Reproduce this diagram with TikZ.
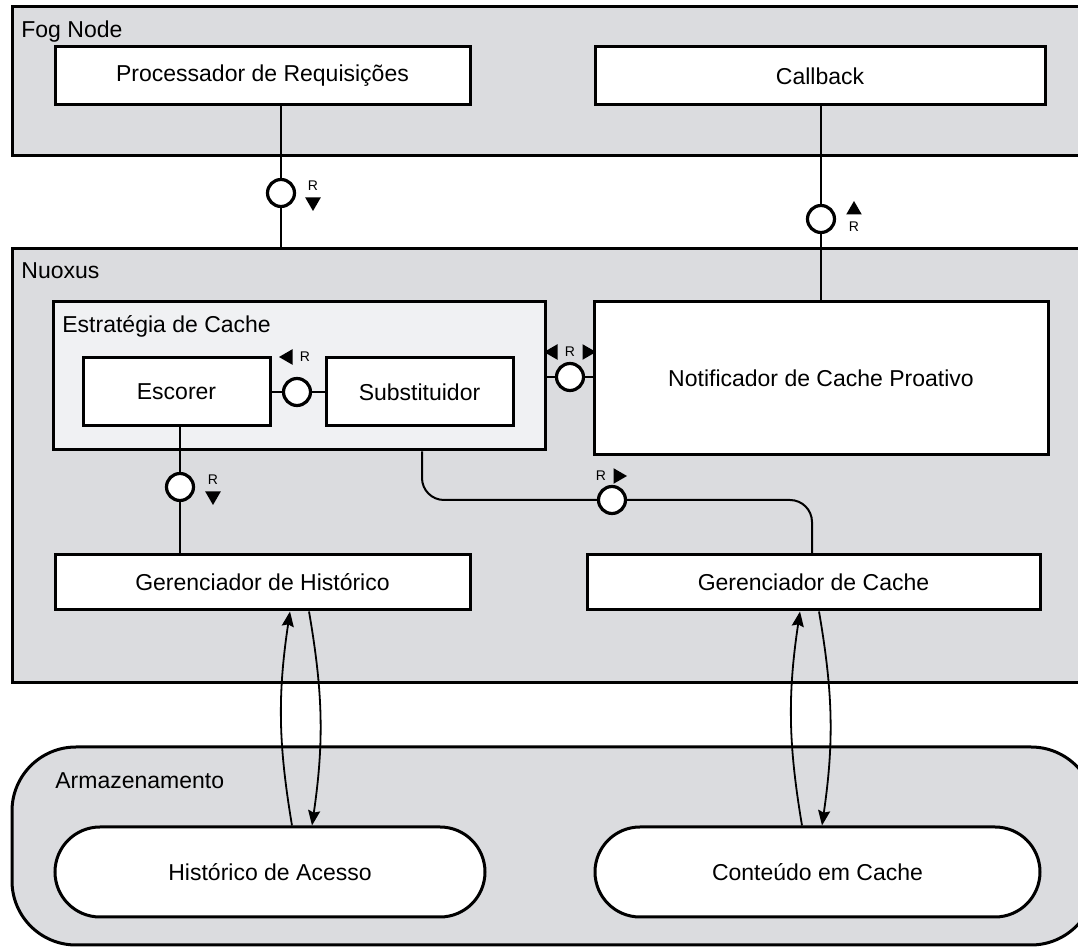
\documentclass[tikz,border=0pt]{standalone}
\usepackage{fontspec}
\setmainfont{Liberation Sans}
\usetikzlibrary{shapes.geometric,arrows.meta,positioning}
\definecolor{fogfill}{RGB}{219,220,223}
\definecolor{stratfill}{RGB}{240,241,243}

\begin{document}
\begin{tikzpicture}[x=0.5pt,y=-0.5pt,
	every node/.style={font=\fontsize{11.5}{14}\selectfont},
	frame/.style={draw,line width=1.5pt,fill=fogfill,inner sep=0pt},
	comp/.style={draw,line width=1.5pt,fill=white,inner sep=0pt},
	store/.style={draw,line width=1.5pt,fill=white,rounded corners=22.5pt,inner sep=0pt},
	title/.style={anchor=north west,inner sep=0pt},
	ball/.style={circle,draw,line width=1.6pt,fill=white,minimum size=13.5pt,inner sep=0pt},
	wire/.style={line width=1pt},
	flow/.style={line width=0.9pt,-{Stealth[length=7.5pt,width=6pt,inset=1pt]}},
	rlabel/.style={font=\fontsize{7}{8}\selectfont,inner sep=0pt},
	tri/.style={regular polygon,regular polygon sides=3,fill=black,minimum size=9pt,inner sep=0pt}]

	\clip (0,0) rectangle (1078,951);
	\useasboundingbox (0,0) rectangle (1078,951);

	\node [frame, minimum width=541.5pt, minimum height=74.5pt] (frame-fog) at (553.5,81.5) {};
	\node [title] (title-fog) at (21,20) {Fog Node};
	\node [comp, minimum width=207.5pt, minimum height=29pt] (box-proc) at (262.5,76) {Processador de Requisições};
	\node [comp, minimum width=225pt, minimum height=29pt] (box-callback) at (820,76) {Callback};

	\node [frame, minimum width=541.5pt, minimum height=217pt] (frame-nuoxus) at (553.5,466) {};
	\node [title] (title-nuoxus) at (21,262) {Nuoxus};
	\node [frame, fill=stratfill, minimum width=246pt, minimum height=74pt] (box-strat) at (299,376) {};
	\node [title] (title-strat) at (62,315) {Estratégia de Cache};
	\node [comp, minimum width=93.5pt, minimum height=34pt] (box-esc) at (176.5,392) {Escorer};
	\node [comp, minimum width=93.5pt, minimum height=34pt] (box-sub) at (419.5,392) {Substituidor};
	\node [comp, minimum width=227pt, minimum height=76.5pt] (box-notif) at (821,378.5) {Notificador de Cache Proativo};
	\node [comp, minimum width=207.5pt, minimum height=27.5pt] (box-ghist) at (262.5,582.5) {Gerenciador de Histórico};
	\node [comp, minimum width=226.5pt, minimum height=27.5pt] (box-gcache) at (813.5,582.5) {Gerenciador de Cache};

	\node [frame, rounded corners=32pt, minimum width=541.5pt, minimum height=99pt] (frame-store) at (553.5,846) {};
	\node [title] (title-store) at (55,772) {Armazenamento};
	\node [store, minimum width=215pt, minimum height=45pt] (box-hacc) at (270,872) {Histórico de Acesso};
	\node [store, minimum width=222.5pt, minimum height=45pt] (box-cont) at (817.5,872) {Conteúdo em Cache};

	\node [ball] (ball-req) at (281,193) {};
	\node [ball] (ball-cb) at (821,219) {};
	\node [ball] (ball-sc) at (297,392) {};
	\node [ball] (ball-nt) at (570,377) {};
	\node [ball] (ball-hist) at (180,487) {};
	\node [ball] (ball-cache) at (612,500) {};
	\coordinate (bend-a) at (422,500);
	\coordinate (bend-b) at (812,500);

	\draw [wire] (ball-req |- box-proc.south) -- (ball-req.north);
	\draw [wire] (ball-req.south) -- (ball-req |- frame-nuoxus.north);
	\draw [wire] (ball-cb |- box-callback.south) -- (ball-cb.north);
	\draw [wire] (ball-cb.south) -- (ball-cb |- box-notif.north);
	\draw [wire] (box-esc.east) -- (ball-sc.west);
	\draw [wire] (ball-sc.east) -- (box-sub.west);
	\draw [wire] (ball-nt -| box-strat.east) -- (ball-nt.west);
	\draw [wire] (ball-nt.east) -- (ball-nt -| box-notif.west);
	\draw [wire] (ball-hist |- box-esc.south) -- (ball-hist.north);
	\draw [wire] (ball-hist.south) -- (ball-hist |- box-ghist.north);
	\draw [wire, rounded corners=11pt] (box-strat.south -| bend-a) |- (ball-cache.west);
	\draw [wire, rounded corners=11pt] (ball-cache.east) -| (box-gcache.north -| bend-b);

	\draw [flow] ([xshift=11pt]box-hacc.north) to [bend left=9] ([xshift=13.75pt]box-ghist.south);
	\draw [flow] ([xshift=23.25pt]box-ghist.south) to [bend left=9] ([xshift=21pt]box-hacc.north);
	\draw [flow] ([xshift=-7.75pt]box-cont.north) to [bend left=9] ([xshift=-6.75pt]box-gcache.south);
	\draw [flow] ([xshift=2.75pt]box-gcache.south) to [bend left=9] ([xshift=2.25pt]box-cont.north);

	\node [rlabel] (r-req) at (313,186) {R};
	\node [tri, rotate=180] (tri-req) at (313,202) {};
	\node [tri] (tri-cb) at (854,210) {};
	\node [rlabel] (r-cb) at (854,227) {R};
	\node [tri, rotate=90] (tri-sc) at (288,357) {};
	\node [rlabel] (r-sc) at (305,357) {R};
	\node [tri, rotate=90] (tri-nt-l) at (553,352) {};
	\node [rlabel] (r-nt) at (570,352) {R};
	\node [tri, rotate=-90] (tri-nt-r) at (587,352) {};
	\node [rlabel] (r-hist) at (213,480) {R};
	\node [tri, rotate=180] (tri-hist) at (213,496) {};
	\node [rlabel] (r-cache) at (601,476) {R};
	\node [tri, rotate=-90] (tri-cache) at (618,476) {};
\end{tikzpicture}
\end{document}
